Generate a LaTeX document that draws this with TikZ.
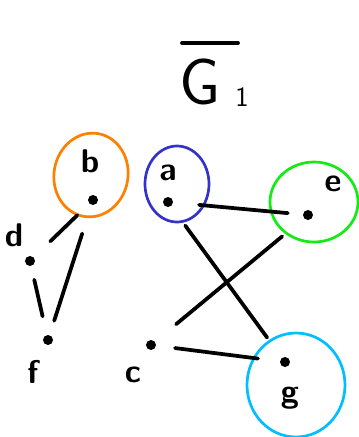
\documentclass[tikz,border=0pt]{standalone}
\usepackage{tikz}
\usetikzlibrary{positioning}
\definecolor{RingOrange}{RGB}{255,128,0}
\definecolor{RingBlue}{RGB}{51,51,200}
\definecolor{RingGreen}{RGB}{20,235,20}
\definecolor{RingCyan}{RGB}{0,190,255}

\begin{document}
\begin{tikzpicture}[
  x=0.03cm, y=-0.03cm,
  vertex/.style={circle, fill=black, inner sep=0pt, minimum size=0.3cm},
  lbl/.style={inner sep=0pt, font=\sffamily\bfseries\fontsize{28}{32}\selectfont},
  big/.style={inner sep=0pt, font=\sffamily\fontsize{56}{60}\selectfont},
  edge/.style={line width=3.2pt, line cap=round},
  ring/.style={line width=2.3pt}
]
\useasboundingbox (0,0) rectangle (359,437);

% title
\node[big] (G) at (200,82) {G};
\node[lbl, font=\sffamily\fontsize{24}{28}\selectfont] (sub) at (242,97) {1};
\draw[edge] (182,43) -- (238,43);

% vertices
\node[vertex] (a) at (168,202) {};
\node[vertex] (b) at (93,200) {};
\node[vertex] (c) at (151,345) {};
\node[vertex] (d) at (30,261) {};
\node[vertex] (e) at (308,215) {};
\node[vertex] (f) at (48,340) {};
\node[vertex] (g) at (285,362) {};

% labels
\node[lbl] (la) at (168,173) {a};
\node[lbl] (lb) at (90,161) {b};
\node[lbl] (lc) at (133,375) {c};
\node[lbl] (ld) at (14,235) {d};
\node[lbl] (le) at (333,184) {e};
\node[lbl] (lf) at (33,372) {f};
\node[lbl] (lg) at (290,398) {g};

% rings
\draw[ring, RingOrange, rotate around={-10:(91,175)}] (91,175) ellipse [x radius=37, y radius=42];
\draw[ring, RingBlue] (177,184) ellipse [x radius=32, y radius=38];
\draw[ring, RingGreen] (314,202) ellipse [x radius=44, y radius=40];
\draw[ring, RingCyan] (296,385) ellipse [x radius=49, y radius=52];

% edges
\draw[edge, shorten <=0.78cm, shorten >=0.45cm] (a) -- (e);
\draw[edge, shorten <=0.5cm, shorten >=0.69cm] (b) -- (d);
\draw[edge, shorten <=0.9cm, shorten >=0.45cm] (b) -- (f);
\draw[edge, shorten <=0.42cm, shorten >=0.57cm] (d) -- (f);
\draw[edge, shorten <=0.72cm, shorten >=0.75cm] (a) -- (g);
\draw[edge, shorten <=0.85cm, shorten >=0.82cm] (e) -- (c);
\draw[edge, shorten <=0.57cm, shorten >=0.66cm] (c) -- (g);

\end{tikzpicture}
\end{document}
